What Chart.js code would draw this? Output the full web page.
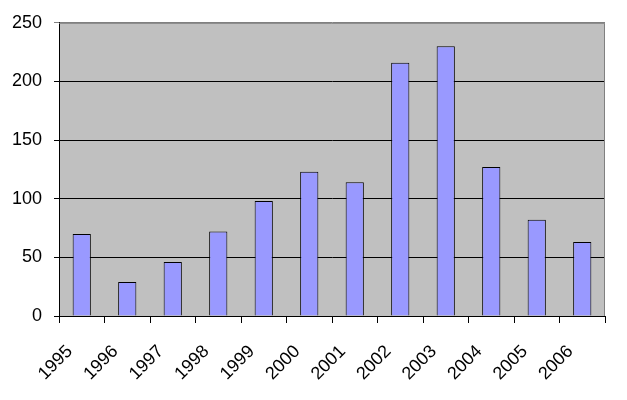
<!DOCTYPE html>
<html>
<head>
<meta charset="utf-8">
<script src="https://cdn.jsdelivr.net/npm/chart.js@4/dist/chart.umd.min.js"></script>
<style>
  html, body { margin: 0; padding: 0; background: #fff; }
  canvas { display: block; }
</style>
</head>
<body>
<canvas id="grafico" width="627" height="400"></canvas>
<script>
// dados
const anos = ['1995', '1996', '1997', '1998', '1999', '2000', '2001', '2002', '2003', '2004', '2005', '2006'];
const valores = [70, 29, 46, 72, 98, 123, 114, 216, 230, 127, 82, 63];
const ticksY = [0, 50, 100, 150, 200, 250];

const fonte = { family: '"Liberation Sans", Arial, sans-serif', size: 18 };

// fundo cinza da area do grafico (estilo excel)
const fundoPlot = {
  id: 'fundoPlot',
  beforeDraw(chart) {
    const { ctx, chartArea: a } = chart;
    ctx.save();
    ctx.fillStyle = '#C0C0C0';
    ctx.fillRect(a.left, a.top, a.right - a.left, a.bottom - a.top);
    ctx.restore();
  },
  afterDatasetsDraw(chart) {
    const { ctx, chartArea: a } = chart;
    ctx.save();
    ctx.strokeStyle = '#808080';
    ctx.lineWidth = 1;
    ctx.beginPath();
    ctx.moveTo(a.left, a.top + 0.5);
    ctx.lineTo(a.right - 0.5, a.top + 0.5);
    ctx.lineTo(a.right - 0.5, a.bottom);
    ctx.stroke();
    ctx.restore();
  }
};

const ctx = document.getElementById('grafico').getContext('2d');

new Chart(ctx, {
  type: 'bar',
  data: {
    labels: anos,
    datasets: [{
      data: valores,
      backgroundColor: '#9999FF',
      borderColor: '#000000',
      borderWidth: 1,
      barPercentage: 0.4,
      categoryPercentage: 1.0
    }]
  },
  options: {
    responsive: false,
    animation: false,
    layout: { padding: { top: 22, right: 22, left: 0, bottom: 0 } },
    plugins: {
      legend: { display: false },
      tooltip: { enabled: false }
    },
    scales: {
      x: {
        offset: true,
        afterFit: (s) => { s.height = 84; },
        grid: {
          offset: true,
          drawOnChartArea: false,
          drawTicks: true,
          tickLength: 7,
          color: '#000000'
        },
        border: { display: true, color: '#000000' },
        ticks: {
          color: '#000000',
          font: fonte,
          minRotation: 45,
          maxRotation: 45,
          autoSkip: false,
          padding: 18,
          labelOffset: -12
        }
      },
      y: {
        min: 0,
        max: 250,
        afterFit: (s) => { s.width = 59; },
        afterBuildTicks: (s) => { s.ticks = ticksY.map(v => ({ value: v })); },
        grid: {
          color: (c) => c.tick && c.tick.value === 250 ? '#808080' : '#000000',
          drawTicks: true,
          tickLength: 5
        },
        border: { display: true, color: '#000000' },
        ticks: {
          color: '#000000',
          font: fonte,
          padding: 12
        }
      }
    }
  },
  plugins: [fundoPlot]
});
</script>
</body>
</html>
